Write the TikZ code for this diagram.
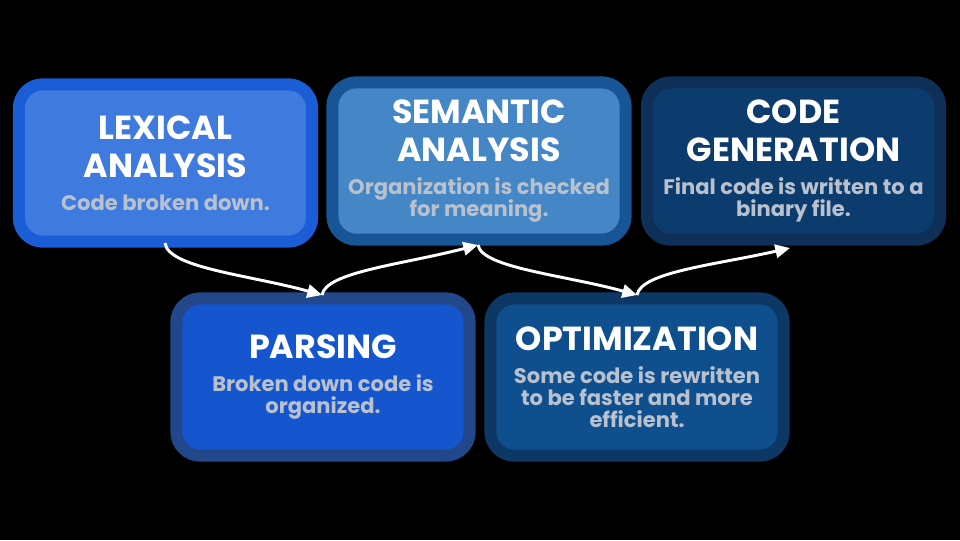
\documentclass[tikz,border=0pt]{standalone}
\usepackage{fontspec}
\setmainfont{Poppins}
\usetikzlibrary{arrows.meta}
\definecolor{lexout}{HTML}{1A5DD6}
\definecolor{lexin}{HTML}{3F7BDE}
\definecolor{semout}{HTML}{175597}
\definecolor{semin}{HTML}{4486C6}
\definecolor{genout}{HTML}{0E2F58}
\definecolor{genin}{HTML}{0C3C6E}
\definecolor{parout}{HTML}{22478A}
\definecolor{parin}{HTML}{1556CF}
\definecolor{optout}{HTML}{0D3866}
\definecolor{optin}{HTML}{0F4F8E}
\definecolor{desc}{HTML}{B9C1CE}
\newcommand{\ttl}[1]{{\fontsize{25pt}{28.5pt}\selectfont\color{white}#1}}
\newcommand{\dsc}[1]{{\fontsize{15.8pt}{16.5pt}\selectfont\color{desc}#1}}
\tikzset{
  stage/.style n args={2}{draw=#1, fill=#2, line width=9pt, rounded corners=18pt,
    minimum width=220pt, minimum height=118pt, align=center, inner sep=0pt,
    font=\fontsize{20.5pt}{28.5pt}\selectfont\bfseries},
  flow/.style={draw=white, line width=2.2pt, -{Triangle[length=11pt,width=10pt]}}
}
\begin{document}
\begin{tikzpicture}[x=0.75pt,y=-0.75pt]
\fill[black] (0,0) rectangle (960,540);
\useasboundingbox (0,0) rectangle (960,540);
\node[stage={lexout}{lexin}] (lex) at (165.5,163) {\ttl{LEXICAL}\\\ttl{ANALYSIS}\\[-4pt]\dsc{Code broken down.}};
\node[stage={semout}{semin}] (sem) at (479,161) {\ttl{SEMANTIC}\\\ttl{ANALYSIS}\\[-4pt]\dsc{Organization is checked}\\[-12pt]\dsc{for meaning.}};
\node[stage={genout}{genin}] (gen) at (793.5,161) {\ttl{CODE}\\\ttl{GENERATION}\\[-4pt]\dsc{Final code is written to a}\\[-12pt]\dsc{binary file.}};
\node[stage={parout}{parin}] (par) at (323,377) {\ttl{PARSING}\\[-4pt]\dsc{Broken down code is}\\[-12pt]\dsc{organized.}};
\node[stage={optout}{optin}] (opt) at (637,377) {\ttl{OPTIMIZATION}\\[-4pt]\dsc{Some code is rewritten}\\[-12pt]\dsc{to be faster and more}\\[-12pt]\dsc{efficient.}};
% connector ends
\coordinate (lexb) at (165,243);
\coordinate (part) at (322,295);
\coordinate (semb) at (478,245);
\coordinate (optt) at (637,295);
\coordinate (genb) at (790,248);
\draw[flow] (lexb) .. controls (168,268) and (250,275) .. (part);
\draw[flow] (part) .. controls (326,272) and (400,265) .. (semb);
\draw[flow] (semb) .. controls (482,268) and (565,275) .. (optt);
\draw[flow] (optt) .. controls (641,272) and (715,265) .. (genb);
\end{tikzpicture}
\end{document}
